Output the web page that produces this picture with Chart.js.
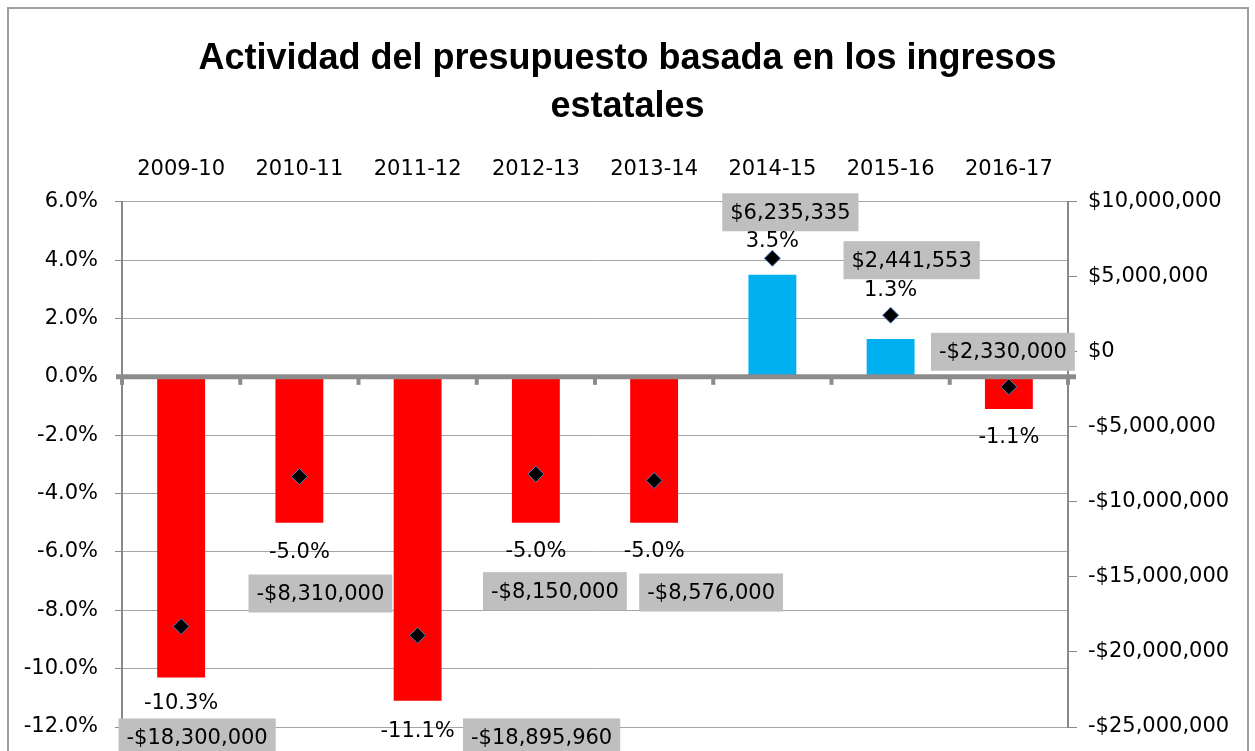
<!DOCTYPE html>
<html>
<head>
<meta charset="utf-8">
<script src="https://cdn.jsdelivr.net/npm/chart.js@4.4.0/dist/chart.umd.min.js"></script>
<style>
  html, body { margin: 0; padding: 0; background: #fff; }
  #wrap { width: 1255px; height: 751px; }
</style>
</head>
<body>
<div id="wrap"><canvas id="chart" width="1255" height="751"></canvas></div>
<script>
const years = ["2009-10", "2010-11", "2011-12", "2012-13", "2013-14", "2014-15", "2015-16", "2016-17"];
const percentChange = [-10.3, -5.0, -11.1, -5.0, -5.0, 3.5, 1.3, -1.1];
const dollarChange = [-18300000, -8310000, -18895960, -8150000, -8576000, 6235335, 2441553, -2330000];

const titleLines = ["Actividad del presupuesto basada en los ingresos", "estatales"];

// where the labels sit, relative to bar end / diamond (px)
const pctLabelOffset = [[0, 26], [0, 30], [0, 31], [0, 29], [0, 29], [0, -33], [0, -48], [0, 29]];
const dollarLabelOffset = [[16, 111], [21, 117], [124, 102], [19, 117], [57, 112], [18, -46], [21, -55], [-6, -35]];

const FONT = "'DejaVu Sans', sans-serif";
const gridGray = "#a6a6a6";
const axisGray = "#898989";

const fmtMoney = v => {
  const s = "$" + Math.abs(v).toLocaleString("en-US");
  return v < 0 ? "-" + s : s;
};

const decorPlugin = {
  id: "decor",
  beforeDraw(chart) {
    const ctx = chart.ctx;
    ctx.save();
    ctx.fillStyle = "#fff";
    ctx.fillRect(0, 0, chart.width, chart.height);
    ctx.strokeStyle = "#a0a0a0";
    ctx.lineWidth = 2;
    ctx.strokeRect(8, 8, chart.width - 15, chart.height + 40);
    ctx.restore();
  },
  afterDatasetsDraw(chart) {
    const ctx = chart.ctx;
    const area = chart.chartArea;
    const xs = chart.scales.x;
    const y0 = chart.scales.y.getPixelForValue(0);
    ctx.save();
    // zero line with category tick marks
    ctx.strokeStyle = "#8c8c8c";
    ctx.lineWidth = 5;
    ctx.beginPath();
    ctx.moveTo(area.left - 6, y0);
    ctx.lineTo(area.right + 8, y0);
    ctx.stroke();
    ctx.lineWidth = 4;
    const half = (xs.getPixelForValue(1) - xs.getPixelForValue(0)) / 2;
    for (let i = 0; i <= years.length; i++) {
      const x = xs.getPixelForValue(0) - half + i * half * 2;
      ctx.beginPath();
      ctx.moveTo(x, y0);
      ctx.lineTo(x, y0 + 8);
      ctx.stroke();
    }
    ctx.restore();
  },
  afterDraw(chart) {
    const ctx = chart.ctx;
    const bars = chart.getDatasetMeta(0).data;
    const pts = chart.getDatasetMeta(1).data;
    ctx.save();
    ctx.font = "21px " + FONT;
    ctx.textAlign = "center";
    ctx.textBaseline = "middle";
    // dollar boxes first, then percentage text
    pts.forEach((p, i) => {
      const txt = fmtMoney(dollarChange[i]);
      const cx = p.x + dollarLabelOffset[i][0];
      const cy = p.y + dollarLabelOffset[i][1];
      const w = ctx.measureText(txt).width + 16;
      const h = 38;
      ctx.fillStyle = "#bfbfbf";
      ctx.fillRect(cx - w / 2, cy - h / 2, w, h);
      ctx.fillStyle = "#000";
      ctx.fillText(txt, cx, cy + 1);
    });
    bars.forEach((b, i) => {
      const txt = percentChange[i].toFixed(1) + "%";
      ctx.fillStyle = "#000";
      ctx.fillText(txt, b.x + pctLabelOffset[i][0], b.y + pctLabelOffset[i][1]);
    });
    ctx.restore();
  }
};

new Chart(document.getElementById("chart"), {
  data: {
    labels: years,
    datasets: [
      {
        type: "bar",
        label: "Porcentaje",
        data: percentChange,
        yAxisID: "y",
        backgroundColor: percentChange.map(v => v < 0 ? "#ff0000" : "#00b0f0"),
        categoryPercentage: 1,
        barPercentage: 0.405,
        order: 2
      },
      {
        type: "line",
        label: "Dólares",
        data: dollarChange,
        yAxisID: "y2",
        showLine: false,
        pointStyle: "rectRot",
        pointRadius: 8,
        pointBackgroundColor: "#000",
        pointBorderColor: "#4f81bd",
        pointBorderWidth: 1,
        order: 1
      }
    ]
  },
  options: {
    responsive: false,
    animation: false,
    layout: { padding: { top: 0, bottom: 24, left: 0, right: 0 } },
    plugins: {
      legend: { display: false },
      tooltip: { enabled: false },
      title: {
        display: true,
        text: titleLines,
        color: "#000",
        font: { family: "'Liberation Sans', sans-serif", size: 36, weight: "bold", lineHeight: 1.33 },
        padding: { top: 35, bottom: 19 }
      }
    },
    scales: {
      x: {
        position: "top",
        offset: true,
        grid: { display: false, drawTicks: false },
        border: { display: false },
        ticks: { color: "#000", font: { family: FONT, size: 21 }, padding: 20, maxRotation: 0 },
        afterFit: s => { s.height = 52; }
      },
      y: {
        position: "left",
        min: -12, max: 6,
        ticks: { stepSize: 2, color: "#000", font: { family: FONT, size: 21 }, padding: 17,
          callback: v => v.toFixed(1) + "%" },
        grid: { color: gridGray, lineWidth: c => c.tick && c.tick.value === 0 ? 0 : 1, tickLength: 7, tickColor: axisGray },
        border: { color: axisGray, width: 2 },
        afterFit: s => { s.width = 122; s.paddingTop = 0; s.paddingBottom = 0; }
      },
      y2: {
        position: "right",
        min: -25000000, max: 10000000,
        ticks: { stepSize: 5000000, color: "#000", font: { family: FONT, size: 21 }, padding: 11,
          callback: v => fmtMoney(v) },
        grid: { drawOnChartArea: false, tickLength: 9, tickColor: axisGray },
        border: { color: axisGray, width: 2 },
        afterFit: s => { s.width = 187; s.paddingTop = 0; s.paddingBottom = 0; }
      }
    }
  },
  plugins: [decorPlugin]
});
</script>
</body>
</html>
